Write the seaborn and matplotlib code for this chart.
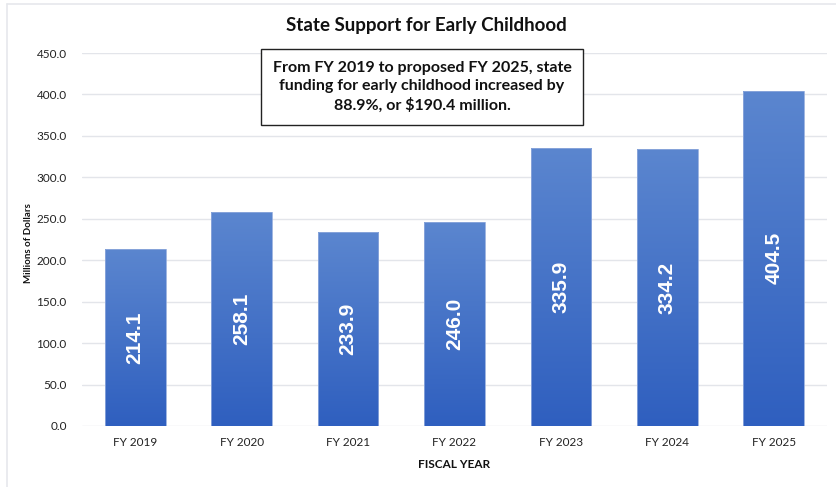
import numpy as np
import pandas as pd
import matplotlib
matplotlib.use("Agg")
import matplotlib.pyplot as plt
import seaborn as sns
from matplotlib.colors import LinearSegmentedColormap

years = ["FY 2019", "FY 2020", "FY 2021", "FY 2022", "FY 2023", "FY 2024", "FY 2025"]
values = [214.1, 258.1, 233.9, 246.0, 335.9, 334.2, 404.5]
yticks = [0, 50, 100, 150, 200, 250, 300, 350, 400, 450]

sns.set_theme(style="white")
plt.rcParams['font.family'] = ['Lato', 'DejaVu Sans']

W, H = 837, 487
fig = plt.figure(figsize=(W / 100, H / 100), dpi=100)
ax = fig.add_axes([82 / W, 1 - 426 / H, (827 - 82) / W, (426 - 53) / H])

df = pd.DataFrame({"year": years, "value": values})
sns.barplot(data=df, x="year", y="value", ax=ax, width=0.57, color="#4472c4",
            saturation=1, zorder=3)

cmap = LinearSegmentedColormap.from_list("g", ["#2f5fbf", "#5b86cf"])
grad = np.linspace(0, 1, 256).reshape(-1, 1)
for p in ax.patches:
    x0, y0 = p.get_x(), p.get_y()
    w, h = p.get_width(), p.get_height()
    p.set_facecolor("none")
    p.set_edgecolor("#8fa9dc")
    p.set_linewidth(0.6)
    im = ax.imshow(grad, cmap=cmap, extent=[x0, x0 + w, y0, y0 + h], origin="lower",
                   aspect="auto", zorder=2.5)
    im.set_clip_path(p)

for i, v in enumerate(values):
    ax.text(i, v / 2, f"{v:.1f}", rotation=90, ha="center", va="center",
            color="white", fontsize=15, fontweight="bold",
            family=["Liberation Sans", "DejaVu Sans"], zorder=5)

ax.set_xlim(-0.5, 6.5)
ax.set_ylim(0, 450)
ax.set_yticks(yticks)
ax.set_yticklabels([f"{t:.1f}" for t in yticks], fontsize=8.5, color="#222222")
ax.tick_params(axis="x", labelsize=8.5, colors="#222222", length=0, pad=8)
ax.tick_params(axis="y", length=0, pad=11)
ax.grid(axis="y", color="#e3e5ea", linewidth=1.0, zorder=0)
ax.set_axisbelow(True)
for s in ax.spines.values():
    s.set_visible(False)

ax.set_xlabel("FISCAL YEAR", fontsize=8.5, fontweight="bold", color="#111111", labelpad=8)
ax.set_ylabel("Millions of Dollars", fontsize=7, fontweight="bold", color="#111111")
ax.yaxis.set_label_coords(33 / W, 0.5, transform=fig.transFigure)

fig.text(426 / W, 1 - 26 / H, "State Support for Early Childhood", ha="center", va="center",
         fontsize=13.5, fontweight="bold", color="#111111")

fig.text(422 / W, 1 - 87 / H,
         "From FY 2019 to proposed FY 2025, state\nfunding for early childhood increased by\n88.9%, or $190.4 million.",
         ha="center", va="center", fontsize=11.5, fontweight="bold", color="#111111",
         linespacing=1.35, zorder=10,
         bbox=dict(boxstyle="square,pad=0.75", facecolor="white", edgecolor="#222222", linewidth=1.0))

# light frame
fig.add_artist(plt.Line2D([7 / W, 7 / W], [0, 1 - 4 / H], color="#e6e8ec", linewidth=1.2))
fig.add_artist(plt.Line2D([7 / W, 1], [1 - 4 / H, 1 - 4 / H], color="#e6e8ec", linewidth=1.2))

fig.savefig("out.png", dpi=100)
